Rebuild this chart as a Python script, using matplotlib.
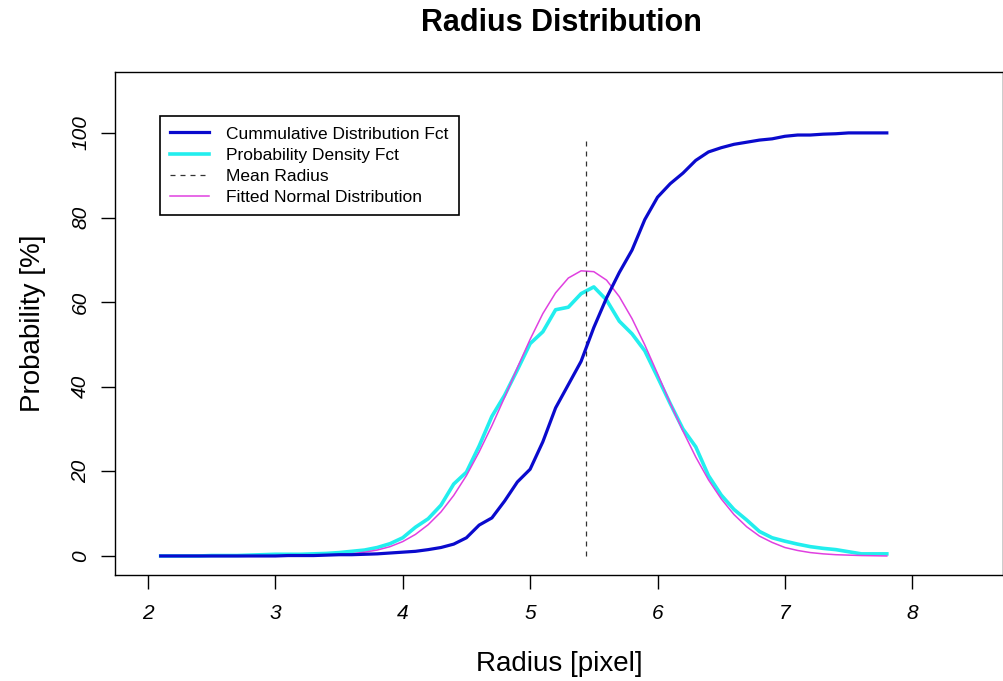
import matplotlib
matplotlib.use("Agg")
import matplotlib.pyplot as plt
import numpy as np

plt.rcParams['font.family'] = ['Liberation Sans', 'DejaVu Sans']

radius = [2.1, 2.2, 2.3, 2.4, 2.5, 2.6, 2.7, 2.8, 2.9, 3.0,
          3.1, 3.2, 3.3, 3.4, 3.5, 3.6, 3.7, 3.8, 3.9, 4.0,
          4.1, 4.2, 4.3, 4.4, 4.5, 4.6, 4.7, 4.8, 4.9, 5.0,
          5.1, 5.2, 5.3, 5.4, 5.5, 5.6, 5.7, 5.8, 5.9, 6.0,
          6.1, 6.2, 6.3, 6.4, 6.5, 6.6, 6.7, 6.8, 6.9, 7.0,
          7.1, 7.2, 7.3, 7.4, 7.5, 7.6, 7.7, 7.8]

cdf = [0.0, 0.0, 0.0, 0.0, 0.0, 0.0, 0.0, 0.0, 0.0, 0.0,
       0.1, 0.1, 0.1, 0.2, 0.3, 0.3, 0.4, 0.5, 0.7, 0.9,
       1.1, 1.5, 2.0, 2.8, 4.3, 7.3, 9.0, 13.0, 17.5, 20.5,
       27.0, 35.0, 40.5, 46.0, 54.0, 61.0, 67.0, 72.3, 79.5, 84.8,
       88.0, 90.5, 93.5, 95.5, 96.5, 97.3, 97.8, 98.3, 98.6, 99.2,
       99.5, 99.5, 99.7, 99.8, 100.0, 100.0, 100.0, 100.0]

pdf = [0.0, 0.0, 0.0, 0.0, 0.1, 0.1, 0.1, 0.2, 0.3, 0.4,
       0.4, 0.4, 0.5, 0.6, 0.8, 1.1, 1.4, 2.0, 2.9, 4.3,
       6.8, 8.8, 12.0, 17.0, 19.8, 26.0, 33.0, 38.0, 44.0, 50.2,
       53.0, 58.2, 58.8, 62.0, 63.6, 60.5, 55.5, 52.5, 48.5, 42.3,
       36.0, 30.0, 25.8, 19.0, 14.4, 11.0, 8.5, 5.8, 4.3, 3.5,
       2.8, 2.2, 1.8, 1.5, 1.0, 0.5, 0.5, 0.5]

fitted_normal = [0.0, 0.0, 0.0, 0.0, 0.0, 0.0, 0.0, 0.0, 0.0, 0.0,
                 0.0, 0.05, 0.1, 0.2, 0.3, 0.5, 0.9, 1.4, 2.2, 3.4,
                 5.1, 7.4, 10.4, 14.3, 19.0, 24.6, 30.8, 37.5, 44.5, 51.2,
                 57.3, 62.2, 65.7, 67.4, 67.2, 65.2, 61.3, 56.1, 49.9, 43.1,
                 36.1, 29.5, 23.4, 18.0, 13.5, 9.8, 6.9, 4.7, 3.2, 2.0,
                 1.3, 0.8, 0.5, 0.3, 0.2, 0.1, 0.05, 0.0]

mean_radius = 5.44
mean_line_top = 98.5

x_ticks = [2, 3, 4, 5, 6, 7, 8]
y_ticks = [0, 20, 40, 60, 80, 100]

fig = plt.figure(figsize=(10.04, 6.81), dpi=100)
ax = fig.add_axes([0.1145, 0.1557, 0.885, 0.7386])

ax.plot(radius, pdf, color='#22EEEE', lw=2.6, zorder=2, label='Probability Density Fct')
ax.plot(radius, fitted_normal, color='#E040E0', lw=1.1, zorder=3, label='Fitted Normal Distribution')
ax.plot([mean_radius, mean_radius], [0, mean_line_top], color='#333333', lw=0.9,
        ls=(0, (4, 4)), zorder=4, label='Mean Radius')
ax.plot(radius, cdf, color='#0A0ACD', lw=2.3, zorder=5, label='Cummulative Distribution Fct')

ax.set_xlim(1.741, 8.716)
ax.set_ylim(-4.49, 114.4)
ax.set_xticks(x_ticks)
ax.set_yticks(y_ticks)
ax.set_xticklabels([str(t) for t in x_ticks], fontsize=15, style='italic')
ax.set_yticklabels([str(t) for t in y_ticks], fontsize=15, style='italic',
                   rotation=90, va='center')
ax.tick_params(axis='x', direction='out', length=10, width=1, pad=11)
ax.tick_params(axis='y', direction='out', length=10, width=1, pad=8)
for s in ax.spines.values():
    s.set_linewidth(1.0)

ax.set_xlabel('Radius [pixel]', fontsize=20, labelpad=20)
ax.set_ylabel('Probability [%]', fontsize=20, labelpad=18)
fig.suptitle('Radius Distribution', fontsize=22, fontweight='bold', x=0.559, y=0.988)

handles, labels = ax.get_legend_handles_labels()
order = [3, 0, 2, 1]
leg = ax.legend([handles[i] for i in order], [labels[i] for i in order],
                loc='upper left', bbox_to_anchor=(0.0507, 0.9125), fontsize=12.5,
                frameon=True, fancybox=False, framealpha=1, edgecolor='black',
                borderpad=0.6, labelspacing=0.34, handlelength=2.2, handletextpad=1.0,
                borderaxespad=0)
leg.get_frame().set_linewidth(1.2)

fig.savefig('out.png', dpi=100)
